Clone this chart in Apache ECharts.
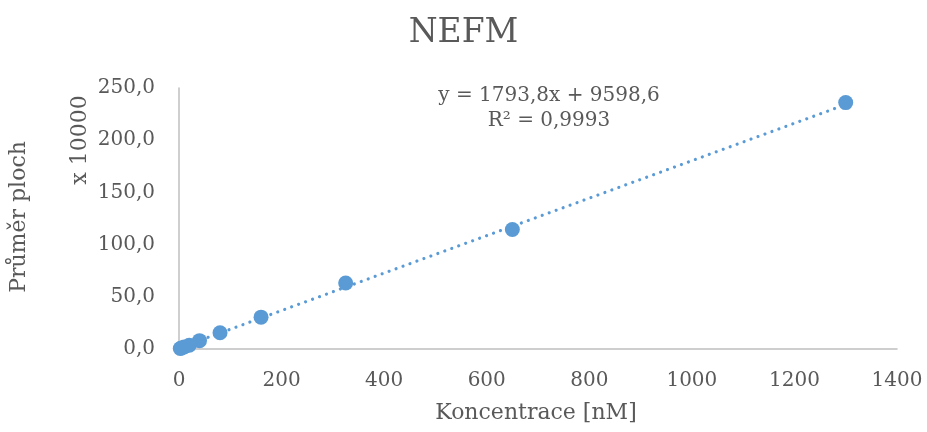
<!DOCTYPE html>
<html>
<head>
<meta charset="utf-8">
<script src="https://cdn.jsdelivr.net/npm/echarts@6/dist/echarts.min.js"></script>
<style>
  html, body { margin: 0; padding: 0; background: #fff; }
  #chart { width: 927px; height: 432px; }
</style>
</head>
<body>
<div id="chart"></div>
<script>
// Concentration [nM] and mean peak area (in units of 10 000)
const concentrations = [2.5, 5, 10, 20, 40, 80, 160, 325, 650, 1300];
const meanAreas = [0.5, 1.0, 1.9, 3.6, 8.0, 15.5, 30.5, 63.2, 114.5, 236.0];

// Linear trendline coefficients (raw area units) and its R²
const trendSlope = 1793.8;
const trendIntercept = 9598.6;
const trendR2 = '0,9993';
const displayUnit = 10000;

const xTicks = [0, 200, 400, 600, 800, 1000, 1200, 1400];
const yTicks = [0, 50, 100, 150, 200, 250];

const FONT = 'DejaVu Serif';
const TEXT = '#595959';
const BLUE = '#5B9BD5';

const fmtComma = (v, d) => v.toFixed(d).replace('.', ',');

const points = concentrations.map((x, i) => [x, meanAreas[i]]);
const xMin = Math.min(...concentrations);
const xMax = Math.max(...concentrations);
const trendAt = x => (trendSlope * x + trendIntercept) / displayUnit;
const trendLine = [[xMin, trendAt(xMin)], [xMax, trendAt(xMax)]];

const chart = echarts.init(document.getElementById('chart'), null, { renderer: 'canvas' });

chart.setOption({
  backgroundColor: '#ffffff',
  animation: false,
  title: {
    text: 'NEFM',
    left: 'center',
    top: 12,
    textStyle: { fontFamily: FONT, fontSize: 33, fontWeight: 'normal', color: TEXT }
  },
  grid: { left: 179, right: 30, top: 88, bottom: 83 },
  xAxis: {
    type: 'value',
    min: xTicks[0],
    max: xTicks[xTicks.length - 1],
    interval: xTicks[1] - xTicks[0],
    axisLine: { show: true, lineStyle: { color: '#BFBFBF', width: 1.5 } },
    axisTick: { show: false },
    splitLine: { show: false },
    axisLabel: {
      fontFamily: FONT, fontSize: 20, color: TEXT, margin: 22,
      formatter: v => String(v)
    }
  },
  yAxis: {
    type: 'value',
    min: yTicks[0],
    max: yTicks[yTicks.length - 1],
    interval: yTicks[1] - yTicks[0],
    axisLine: { show: true, lineStyle: { color: '#BFBFBF', width: 1.5 } },
    axisTick: { show: false },
    splitLine: { show: false },
    axisLabel: {
      fontFamily: FONT, fontSize: 20, color: TEXT, margin: 24,
      formatter: v => fmtComma(v, 1)
    }
  },
  graphic: [
    {
      type: 'text', x: 536, y: 413,
      style: { text: 'Koncentrace [nM]', font: '22px "DejaVu Serif"', fill: TEXT, align: 'center', verticalAlign: 'middle' }
    },
    {
      type: 'text', x: 19, y: 217, rotation: Math.PI / 2,
      style: { text: 'Průměr ploch', font: '22px "DejaVu Serif"', fill: TEXT, align: 'center', verticalAlign: 'middle' }
    },
    {
      type: 'text', x: 80, y: 140, rotation: Math.PI / 2,
      style: { text: 'x 10000', font: '22px "DejaVu Serif"', fill: TEXT, align: 'center', verticalAlign: 'middle' }
    },
    {
      type: 'text', x: 549, y: 96,
      style: {
        text: 'y = ' + fmtComma(trendSlope, 1) + 'x + ' + fmtComma(trendIntercept, 1),
        font: '20px "DejaVu Serif"', fill: TEXT, align: 'center', verticalAlign: 'middle'
      }
    },
    {
      type: 'text', x: 549, y: 121,
      style: {
        text: 'R² = ' + trendR2,
        font: '20px "DejaVu Serif"', fill: TEXT, align: 'center', verticalAlign: 'middle'
      }
    }
  ],
  series: [
    {
      name: 'Trend',
      type: 'line',
      data: trendLine,
      symbol: 'none',
      silent: true,
      z: 1,
      lineStyle: { color: BLUE, width: 3.2, type: [0.01, 7.4], cap: 'round' }
    },
    {
      name: 'NEFM',
      type: 'scatter',
      data: points,
      symbol: 'circle',
      symbolSize: 15,
      z: 2,
      itemStyle: { color: BLUE, opacity: 1 }
    }
  ]
});
</script>
</body>
</html>
